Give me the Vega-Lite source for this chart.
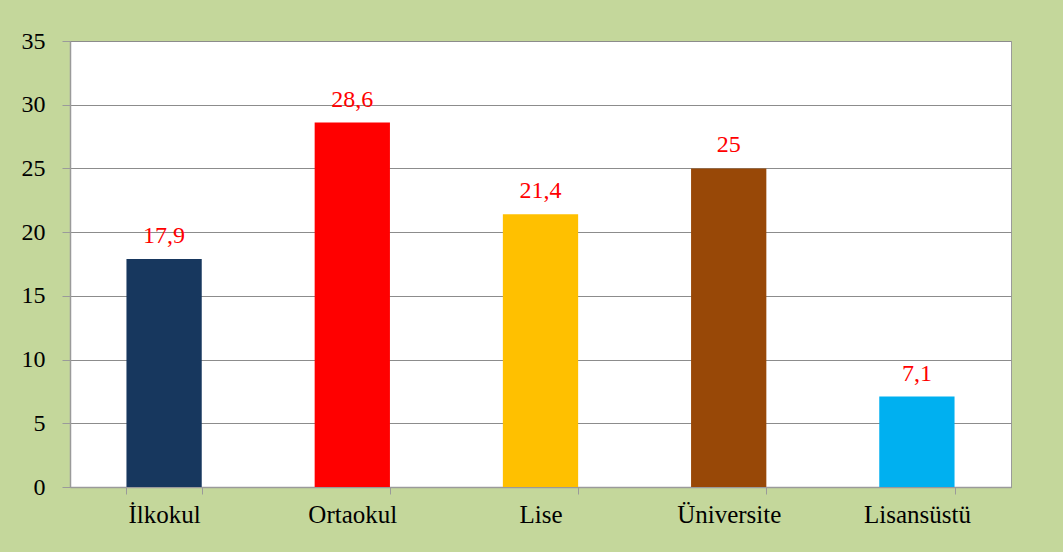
{
  "$schema": "https://vega.github.io/schema/vega-lite/v6.json",
  "autosize": {"type": "none"},
  "width": 941,
  "height": 446,
  "padding": {"left": 70, "top": 41, "right": 52, "bottom": 65},
  "background": "#C4D79B",
  "config": {
    "view": {"fill": "white", "stroke": "#9A9A9A", "strokeWidth": 1},
    "font": "Liberation Serif"
  },
  "data": {
    "values": [
      {"kategori": "İlkokul", "deger": 17.9, "etiket": "17,9", "renk": "#17375E"},
      {"kategori": "Ortaokul", "deger": 28.6, "etiket": "28,6", "renk": "#FF0000"},
      {"kategori": "Lise", "deger": 21.4, "etiket": "21,4", "renk": "#FFC000"},
      {"kategori": "Üniversite", "deger": 25, "etiket": "25", "renk": "#984807"},
      {"kategori": "Lisansüstü", "deger": 7.1, "etiket": "7,1", "renk": "#00B0F0"}
    ]
  },
  "encoding": {
    "x": {
      "field": "kategori",
      "type": "nominal",
      "sort": null,
      "scale": {"paddingInner": 0.6, "paddingOuter": 0.3},
      "axis": {
        "title": null,
        "labelAngle": 0,
        "labelFont": "Liberation Serif",
        "labelFontSize": 25,
        "labelColor": "#000000",
        "labelPadding": 8,
        "tickBand": "extent",
        "tickSize": 7,
        "tickColor": "#9A9A9A",
        "domainColor": "#9A9A9A",
        "domainWidth": 1.5,
        "grid": false
      }
    },
    "y": {
      "field": "deger",
      "type": "quantitative",
      "scale": {"domain": [0, 35], "nice": false},
      "axis": {
        "title": null,
        "values": [0, 5, 10, 15, 20, 25, 30, 35],
        "labelFont": "Liberation Serif",
        "labelFontSize": 24,
        "labelColor": "#000000",
        "labelPadding": 17,
        "tickSize": 8,
        "tickColor": "#9A9A9A",
        "domainColor": "#9A9A9A",
        "domainWidth": 1.5,
        "gridColor": "#8C8C8C",
        "gridWidth": 1
      }
    }
  },
  "layer": [
    {
      "mark": {"type": "bar"},
      "encoding": {
        "color": {"field": "renk", "type": "nominal", "scale": null, "legend": null}
      }
    },
    {
      "mark": {"type": "text", "baseline": "alphabetic", "dy": -16, "fontSize": 24, "font": "Liberation Serif", "color": "#FF0000"},
      "encoding": {"text": {"field": "etiket"}}
    }
  ]
}
